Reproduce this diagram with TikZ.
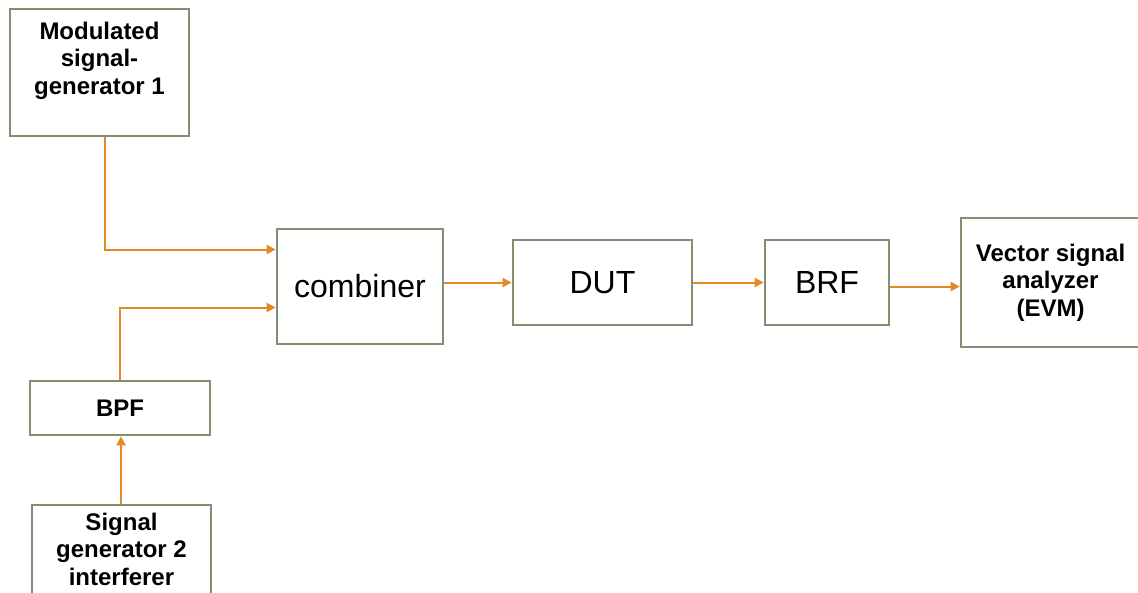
\documentclass[tikz,border=0pt]{standalone}
\usepackage{fontspec}
\setmainfont{Liberation Sans}
\usetikzlibrary{arrows.meta,calc}
\definecolor{boxline}{RGB}{128,144,112}
\definecolor{sig}{RGB}{228,138,36}
\begin{document}
\begin{tikzpicture}[x=1pt,y=-1pt,
  blk/.style={draw=boxline,line width=2.6pt,fill=white,inner sep=0pt},
  big/.style={font=\fontsize{32}{38}\selectfont},
  lbl/.style={font=\fontsize{24}{27.5}\selectfont\bfseries,align=center},
  wire/.style={draw=sig,line width=2pt,-{Triangle[length=9pt,width=9pt]}}]
\useasboundingbox (0,0) rectangle (1138,592);
\clip (0,0) rectangle (1138,592);

% blocks
\node[blk,minimum width=179pt,minimum height=127pt] (mg) at (99.5,72.5) {};
\node[lbl] (mgt) at (99.5,60.5) {Modulated\\signal-\\generator 1};

\node[blk,minimum width=166pt,minimum height=115pt,big] (comb) at (360,286.5) {combiner};
\node[blk,minimum width=179pt,minimum height=85pt,big] (dut) at (602.5,282.5) {DUT};
\node[blk,minimum width=124pt,minimum height=85pt,big] (brf) at (827,282.5) {BRF};
\node[blk,minimum width=179pt,minimum height=129pt,lbl] (vsa) at (1050.5,282.5) {Vector signal\\analyzer\\(EVM)};

\node[blk,minimum width=180pt,minimum height=54pt,lbl] (bpf) at (120,408) {BPF};
\node[blk,minimum width=179pt,minimum height=96pt] (sg2) at (121.5,553) {};
\node[lbl] (sg2t) at (121.5,549) {Signal\\generator 2\\interferer};

% signal paths
\coordinate (sg2out) at ([xshift=-0.5pt]sg2.north);
\draw[wire] ([xshift=5pt]mg.south) |- ([yshift=37pt]comb.west);
\draw[wire] (bpf.north) |- ([yshift=-21pt]comb.west);
\draw[wire] (sg2out) -- (bpf.south -| sg2out);
\draw[wire] (comb.east |- dut.west) -- (dut.west);
\draw[wire] (dut.east) -- (brf.west);
\draw[wire] ([yshift=-4pt]brf.east) -- ([yshift=-4pt]vsa.west);
\end{tikzpicture}
\end{document}
